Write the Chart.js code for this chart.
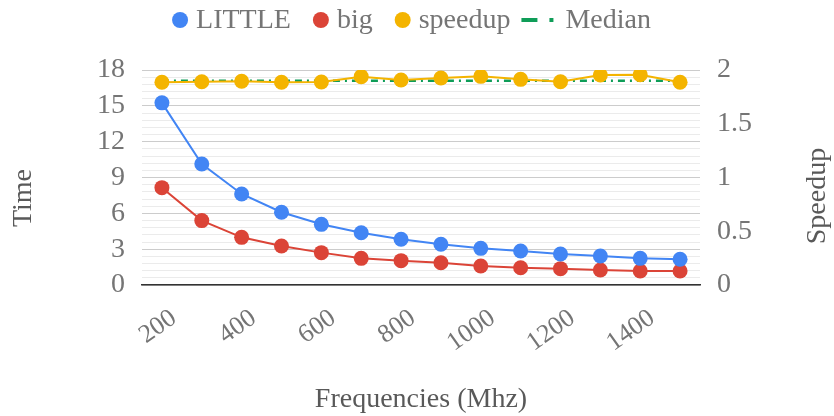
<!DOCTYPE html>
<html>
<head>
<meta charset="utf-8">
<script src="https://cdn.jsdelivr.net/npm/chart.js@4.4.0/dist/chart.umd.min.js"></script>
<style>
  html, body { margin: 0; padding: 0; background: #fff; }
  #wrap { width: 834px; height: 416px; }
</style>
</head>
<body>
<div id="wrap"><canvas id="chart"></canvas></div>
<script>
// Datos

const frequencies = ["200", "300", "400", "500", "600", "700", "800", "900", "1000", "1100", "1200", "1300", "1400", "1500"];
const littleTimes = [15.25, 10.13, 7.62, 6.09, 5.08, 4.38, 3.83, 3.41, 3.07, 2.85, 2.6, 2.43, 2.23, 2.15];
const bigTimes = [8.15, 5.39, 3.99, 3.27, 2.71, 2.23, 2.04, 1.86, 1.59, 1.45, 1.37, 1.26, 1.17, 1.17];
const speedups = [1.886, 1.891, 1.895, 1.886, 1.888, 1.938, 1.907, 1.925, 1.941, 1.913, 1.891, 1.953, 1.956, 1.886];
const medianSpeedup = [1.9, 1.9, 1.9, 1.9, 1.9, 1.9, 1.9, 1.9, 1.9, 1.9, 1.9, 1.9, 1.9, 1.9];

const seriesLabels = ["LITTLE", "big", "speedup", "Median"];
const seriesColors = ["#4285F4", "#DB4437", "#F4B400", "#0F9D58"];

const FONT = "'Liberation Serif', 'Times New Roman', serif";
const GREY = "#757575";
const medianDash = [7, 5, 2, 5];

// leyenda propia (circulos y la linea de la mediana)
const legendPlugin = {
  id: "customLegend",
  afterDraw(chart) {
    const ctx = chart.ctx;
    const area = chart.chartArea;
    ctx.save();
    ctx.font = "28px " + FONT;
    ctx.textBaseline = "middle";
    ctx.textAlign = "left";
    const y = 20;

    let widths = seriesLabels.map((l) => ctx.measureText(l).width);
    let total = 0;
    for (let i = 0; i < 3; i++) total += 16 + widths[i] + 30;
    total += 44 + widths[3] + 8;
    let x = (area.left + area.right) / 2 - total / 2 + 8;

    for (let i = 0; i < 3; i++) {
      ctx.fillStyle = seriesColors[i];
      ctx.beginPath();
      ctx.arc(x, y, 8, 0, Math.PI * 2);
      ctx.fill();
      ctx.fillStyle = GREY;
      ctx.fillText(seriesLabels[i], x + 16, y + 1);
      x += 16 + widths[i] + 30;
    }
    // mediana
    let start = x - 8 - 11;
    ctx.fillStyle = seriesColors[3];
    ctx.fillRect(start, y - 2, 16, 4);
    ctx.fillRect(start + 28, y - 2, 4, 4);
    ctx.fillStyle = GREY;
    ctx.fillText(seriesLabels[3], start + 44, y + 1);
    ctx.restore();
  },
};

// titulos de los ejes verticales (ambos se leen de abajo hacia arriba)
const axisTitlesPlugin = {
  id: "axisTitles",
  afterDraw(chart) {
    const ctx = chart.ctx;
    ctx.save();
    ctx.font = "28px " + FONT;
    ctx.fillStyle = "#595959";
    ctx.textAlign = "center";
    ctx.textBaseline = "middle";

    ctx.translate(24, 198);
    ctx.rotate(-Math.PI / 2);
    ctx.fillText("Time", 0, 0);
    ctx.restore();

    ctx.save();
    ctx.font = "28px " + FONT;
    ctx.fillStyle = "#595959";
    ctx.textAlign = "center";
    ctx.textBaseline = "middle";
    ctx.translate(818, 196);
    ctx.rotate(-Math.PI / 2);
    ctx.fillText("Speedup", 0, 0);
    ctx.restore();
  },
};

function lineDataset(label, data, color, axis) {
  return {
    label: label,
    data: data,
    yAxisID: axis,
    borderColor: color,
    backgroundColor: color,
    borderWidth: 2,
    pointRadius: 7.5,
    pointHoverRadius: 7.5,
    pointBorderWidth: 0,
    tension: 0,
  };
}

const datasets = [
  lineDataset(seriesLabels[0], littleTimes, seriesColors[0], "y"),
  lineDataset(seriesLabels[1], bigTimes, seriesColors[1], "y"),
  lineDataset(seriesLabels[2], speedups, seriesColors[2], "y1"),
  {
    label: seriesLabels[3],
    data: medianSpeedup,
    yAxisID: "y1",
    borderColor: seriesColors[3],
    borderWidth: 2.5,
    borderDash: medianDash,
    pointRadius: 0,
    pointHoverRadius: 0,
  },
];

const config = {
  type: "line",
  data: { labels: frequencies, datasets: datasets },
  plugins: [legendPlugin, axisTitlesPlugin],
  options: {
    responsive: true,
    maintainAspectRatio: false,
    animation: false,
    layout: { padding: { top: 70, left: 0, right: 0, bottom: 0 } },
    plugins: {
      legend: { display: false },
      tooltip: { enabled: false },
    },
    scales: {
      x: {
        offset: true,
        grid: { display: false, drawTicks: false },
        border: { display: true, color: "#333333", width: 1.5 },
        ticks: {
          autoSkip: false,
          minRotation: 35,
          maxRotation: 35,
          padding: 18,
          labelOffset: 12,
          color: GREY,
          font: { family: FONT, size: 26 },
          callback: function (value, index) {
            return index % 2 === 0 ? this.getLabelForValue(value) : "";
          },
        },
        title: {
          display: true,
          text: "Frequencies (Mhz)",
          color: "#595959",
          font: { family: FONT, size: 28 },
          padding: { top: 0, bottom: 0 },
        },
        afterFit(scale) {
          scale.height = 131;
        },
      },
      y: {
        position: "left",
        min: 0,
        max: 18,
        grid: {
          drawTicks: false,
          color: (c) => (c.index % 5 === 0 ? "#cccccc" : "#ebebeb"),
          lineWidth: 1,
        },
        border: { display: false },
        ticks: {
          stepSize: 0.6,
          autoSkip: false,
          padding: 17,
          color: GREY,
          font: { family: FONT, size: 28 },
          callback: (value, index) => (index % 5 === 0 ? String(Math.round(value)) : ""),
        },
        afterFit(scale) {
          scale.width = 142;
          scale.paddingTop = 0;
          scale.paddingBottom = 0;
        },
      },
      y1: {
        position: "right",
        min: 0,
        max: 2,
        grid: { display: false, drawTicks: false },
        border: { display: false },
        ticks: {
          stepSize: 0.5,
          padding: 17,
          color: GREY,
          font: { family: FONT, size: 28 },
          callback: (value) => String(value),
        },
        afterFit(scale) {
          scale.width = 134;
          scale.paddingTop = 0;
          scale.paddingBottom = 0;
        },
      },
    },
  },
};

const chart = new Chart(document.getElementById("chart").getContext("2d"), config);
</script>
</body>
</html>
